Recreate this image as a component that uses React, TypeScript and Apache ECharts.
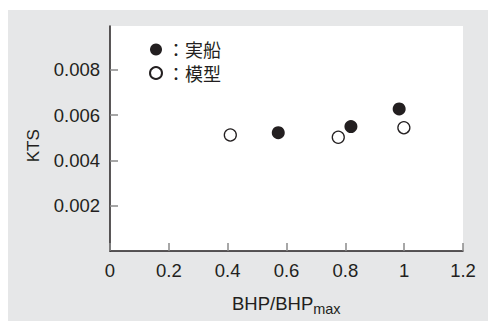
import React, { useEffect, useRef } from "react";
import * as echarts from "echarts";

const shipData: [number, number][] = [
  [0.572, 0.00522],
  [0.819, 0.00549],
  [0.983, 0.00627],
];
const modelData: [number, number][] = [
  [0.409, 0.00512],
  [0.776, 0.00502],
  [0.999, 0.00544],
];
const yTickValues = [0.002, 0.004, 0.006, 0.008];
const seriesNames = ["：実船", "：模型"];

const FONT = "'Liberation Sans', Arial, 'Noto Sans CJK JP', sans-serif";
const INK = "#231f20";

export default function App() {
  const ref = useRef<HTMLDivElement>(null);
  useEffect(() => {
    if (!ref.current) return;
    const chart = echarts.init(ref.current, undefined, { renderer: "svg" });
    chart.setOption({
      animation: false,
      backgroundColor: "#e6e7e8",
      textStyle: { fontFamily: FONT },
      grid: {
        left: 102,
        top: 16,
        right: 25,
        bottom: 70,
        show: true,
        backgroundColor: "#ffffff",
        borderWidth: 0,
      },
      legend: {
        orient: "vertical",
        left: 136,
        top: 25.5,
        itemWidth: 12,
        itemHeight: 12,
        itemGap: 5.5,
        textStyle: {
          fontSize: 18,
          color: INK,
          fontFamily: "'Noto Sans CJK JP', sans-serif",
        },
        data: seriesNames,
      },
      xAxis: {
        type: "value",
        min: 0,
        max: 1.2,
        interval: 0.2,
        splitLine: { show: false },
        axisLine: { lineStyle: { color: INK, width: 1.5 } },
        axisTick: { inside: true, length: 8, lineStyle: { color: "#8a8a8a", width: 1.5 } },
        axisLabel: {
          fontSize: 18.5,
          color: INK,
          margin: 10,
          fontFamily: FONT,
          formatter: (v: number) => String(parseFloat(v.toFixed(1))),
        },
      },
      yAxis: {
        type: "value",
        min: 0,
        max: 0.00993,
        interval: 0.002,
        splitLine: { show: false },
        axisLine: { lineStyle: { color: INK, width: 1.5 } },
        axisTick: {
          inside: true,
          length: 8,
          customValues: yTickValues,
          lineStyle: { color: "#8a8a8a", width: 1.5 },
        },
        axisLabel: {
          fontSize: 18.5,
          color: INK,
          margin: 10,
          fontFamily: FONT,
          customValues: yTickValues,
          formatter: (v: number) => v.toFixed(3),
        },
      },
      graphic: [
        {
          type: "text",
          x: 25.5,
          y: 135.8,
          rotation: Math.PI / 2,
          style: {
            text: "KTS",
            fontSize: 17,
            fontFamily: FONT,
            fill: INK,
            align: "center",
            verticalAlign: "middle",
          },
        },
        {
          type: "text",
          x: 278.3,
          y: 293,
          style: {
            text: "{a|BHP/BHP}{b|max}",
            fontFamily: FONT,
            fill: INK,
            align: "center",
            verticalAlign: "middle",
            rich: {
              a: { fontSize: 18.5, lineHeight: 26, verticalAlign: "middle", fill: INK, fontFamily: FONT },
              b: { fontSize: 14.5, lineHeight: 26, verticalAlign: "bottom", fill: INK, fontFamily: FONT },
            },
          },
        },
      ],
      series: [
        {
          name: seriesNames[0],
          type: "scatter",
          symbol: "circle",
          symbolSize: 13,
          data: shipData,
          itemStyle: { color: INK, opacity: 1 },
        },
        {
          name: seriesNames[1],
          type: "scatter",
          symbol: "circle",
          symbolSize: 12,
          data: modelData,
          itemStyle: { color: "#ffffff", borderColor: INK, borderWidth: 1.3, opacity: 1 },
        },
      ],
    });
    return () => chart.dispose();
  }, []);
  return (
    <div
      ref={ref}
      style={{ position: "absolute", left: 8, top: 10, width: 480, height: 311 }}
    />
  );
}
